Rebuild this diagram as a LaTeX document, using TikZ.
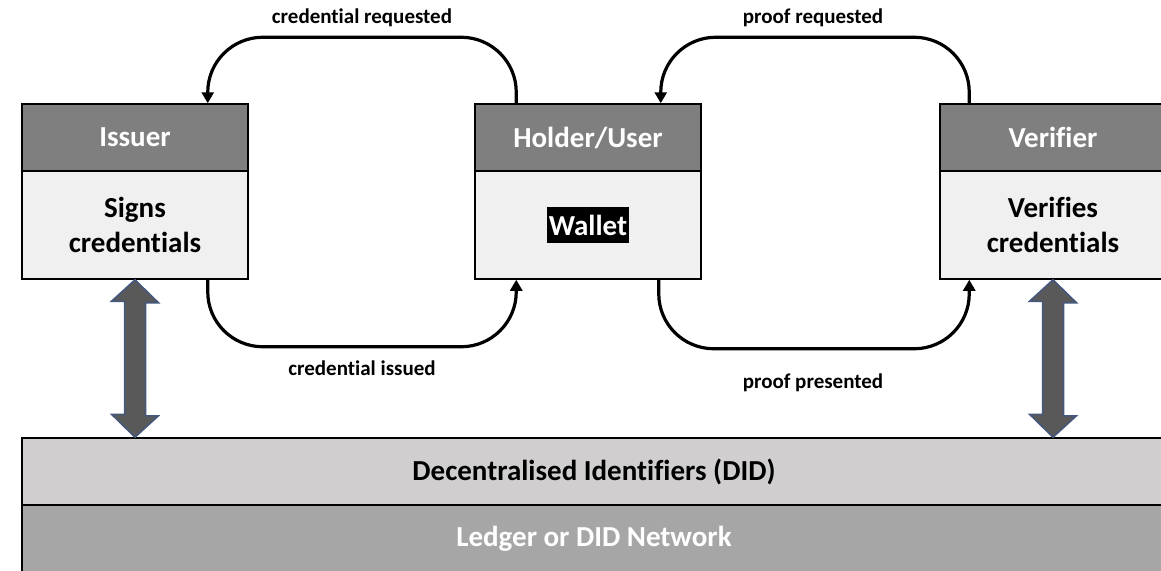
\documentclass[tikz,border=0pt]{standalone}
\usepackage{fontspec}
\setmainfont[Ligatures=NoCommon]{Carlito}
\usetikzlibrary{arrows.meta}
\definecolor{headgray}{HTML}{7F7F7F}
\definecolor{bodygray}{HTML}{F0F0F0}
\definecolor{didgray}{HTML}{D0CECE}
\definecolor{ledgergray}{HTML}{A6A6A6}
\definecolor{arrowfill}{HTML}{595959}
\definecolor{arrowedge}{HTML}{44577E}
\begin{document}
\begin{tikzpicture}[x=1pt,y=-1pt,
  boxline/.style={draw=black, line width=1.5pt, inner sep=0pt},
  head/.style={boxline, fill=headgray, minimum width=226pt, minimum height=67pt,
    text=white, font=\fontsize{29}{34}\selectfont\bfseries},
  body/.style={boxline, fill=bodygray, minimum width=226pt, minimum height=108pt,
    align=center, font=\fontsize{29}{35}\selectfont\bfseries},
  bar/.style={boxline, minimum width=1144pt, minimum height=67pt,
    font=\fontsize{29}{34}\selectfont\bfseries},
  flow/.style={line width=3.2pt, rounded corners=55pt,
    -{Triangle[width=12pt,length=11pt]}},
  lbl/.style={font=\fontsize{21}{25}\selectfont\bfseries},
  dblarrow/.style={draw=arrowedge, fill=arrowfill, line width=1.5pt, line join=miter}
]
\useasboundingbox (0,0) rectangle (1161,570);
\clip (0,0) rectangle (1161,570);

% the three parties
\node[head] (issuerHead) at (135,137.5) {Issuer};
\node[body] (issuerBody) at (135,225) {Signs\\credentials};
\node[head] (holderHead) at (588,137.5) {Holder/User};
\node[body] (holderBody) at (588,225) {};
\node[fill=black, text=white, inner xsep=1.5pt, inner ysep=0pt, minimum height=36pt,
  font=\fontsize{29}{34}\selectfont\bfseries] (wallet) at (holderBody.center) {Wallet};
\node[head] (verifierHead) at (1053,137.5) {Verifier};
\node[body] (verifierBody) at (1053,225) {Verifies\\credentials};

% shared layers
\node[bar, fill=didgray] (didBar) at (594,471.5) {Decentralised Identifiers (DID)};
\node[bar, fill=ledgergray, text=white] (ledgerBar) at (594,538.5) {Ledger or DID Network};

% exchanges between the parties
\draw[flow] ([xshift=42pt]holderHead.north west) -- ++(0,-66)
  -| ([xshift=-41pt]issuerHead.north east);
\draw[flow] ([xshift=-41pt]issuerBody.south east) -- ++(0,67)
  -| ([xshift=42pt]holderBody.south west);
\draw[flow] ([xshift=30pt]verifierHead.north west) -- ++(0,-66)
  -| ([xshift=-41pt]holderHead.north east);
\draw[flow] ([xshift=-43pt]holderBody.south east) -- ++(0,69)
  -| ([xshift=30pt]verifierBody.south west);

\node[lbl] (lblCredReq) at (362,18) {credential requested};
\node[lbl] (lblCredIss) at (362,368) {credential issued};
\node[lbl] (lblProofReq) at (813,18) {proof requested};
\node[lbl] (lblProofPres) at (813,383) {proof presented};

% links to the identifier layer
\draw[dblarrow] (issuerBody.south) -- ++(23.5,23) -- ++(-13,0) -- ++(0,113)
  -- ++(13,0) -- (didBar.north -| issuerBody.south) -- ++(-23.5,-23)
  -- ++(13,0) -- ++(0,-113) -- ++(-13,0) -- cycle;
\draw[dblarrow] (verifierBody.south) -- ++(23.5,23) -- ++(-13,0) -- ++(0,113)
  -- ++(13,0) -- (didBar.north -| verifierBody.south) -- ++(-23.5,-23)
  -- ++(13,0) -- ++(0,-113) -- ++(-13,0) -- cycle;
\end{tikzpicture}
\end{document}
